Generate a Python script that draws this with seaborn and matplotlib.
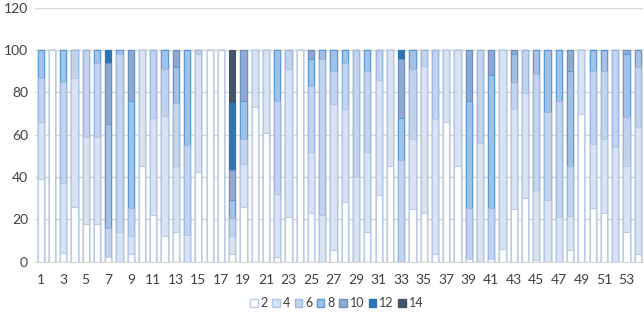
import numpy as np
import pandas as pd
import matplotlib
matplotlib.use("Agg")
import matplotlib.pyplot as plt
from matplotlib.patches import Patch
import seaborn as sns

# categories 1..54
cats = [str(i) for i in range(1, 55)]
series_names = ["2", "4", "6", "8", "10", "12", "14"]

# percentage share of each series per category
s2 = [39, 100, 4, 26, 18, 18, 2, 0, 3.5, 45,
      22, 12, 14, 0, 42.5, 100, 100, 3.5, 26, 73,
      61, 2, 21, 100, 23, 0, 5.5, 28, 0, 14,
      31.5, 45, 0, 25, 23, 3.5, 66, 45, 1.5, 0,
      1.5, 6, 25, 30, 1, 0, 0, 5.5, 70, 25.5,
      23, 0, 14, 3.5]
s4 = [27, 0, 33, 61, 41, 41, 0, 14, 8.5, 55,
      46, 57, 31, 12.5, 55.5, 0, 0, 8.5, 20, 27,
      39, 30, 70, 0, 29, 22, 69, 44, 40, 38,
      54.5, 55, 0, 33, 69.5, 64, 34, 55, 0, 56,
      0, 94, 47, 49.5, 33, 29, 21, 16, 30, 30,
      35, 54, 31, 60]
s6 = [21, 0, 48, 13, 41, 35, 14, 84, 13.5, 0,
      32, 22, 30, 42.5, 2, 0, 0, 8.5, 12, 0,
      0, 44, 9, 0, 31, 74, 15.5, 22, 60, 38,
      14, 0, 48, 33, 7.5, 32.5, 0, 0, 24, 44,
      24, 0, 13, 20.5, 54.5, 41.5, 55, 23.5, 0, 34.5,
      32, 46, 23.5, 28.5]
s8 = [13, 0, 15, 0, 0, 6, 49, 2, 50.5, 0,
      0, 9, 17, 45, 0, 0, 0, 8.5, 18, 0,
      0, 24, 0, 0, 13, 4, 10, 6, 0, 10,
      0, 0, 20, 9, 0, 0, 0, 0, 50.5, 0,
      62.5, 0, 13, 0, 11.5, 29.5, 24, 45, 0, 10,
      10, 0, 29.5, 8]
s10 = [0, 0, 0, 0, 0, 0, 29, 0, 24, 0,
       0, 0, 8, 0, 0, 0, 0, 14.5, 24, 0,
       0, 0, 0, 0, 4, 0, 0, 0, 0, 0,
       0, 0, 28, 0, 0, 0, 0, 0, 24, 0,
       12, 0, 2, 0, 0, 0, 0, 10, 0, 0,
       0, 0, 2, 0]
s12 = [0] * 54
s12[6] = 6
s12[17] = 31.5
s12[32] = 4
s14 = [0] * 54
s14[17] = 25

df = pd.DataFrame({"cat": cats, "2": s2, "4": s4, "6": s6, "8": s8,
                   "10": s10, "12": s12, "14": s14})

faces = ["#ffffff", "#d9e3f3", "#c3d4ee", "#a3c2e8", "#8eaad3", "#2e75b6", "#44546a"]
edges = ["#b9cbe8", "#b4c7e7", "#9db7e0", "#5b9bd5", "#6f8fc0", "#2e75b6", "#44546a"]

sns.set_style("white")
plt.rcParams["font.family"] = ["Lato", "DejaVu Sans"]

fig, ax = plt.subplots(figsize=(6.44, 3.22), dpi=100)
fig.subplots_adjust(left=35 / 644, right=0.999, top=1 - 7.7 / 322, bottom=60.3 / 322)

# stacked bars: draw cumulative totals, tallest first
cum = df[series_names].cumsum(axis=1)
for k in range(len(series_names) - 1, -1, -1):
    name = series_names[k]
    sns.barplot(x=df["cat"], y=cum[name], order=cats, color=faces[k],
                edgecolor=edges[k], linewidth=0.8, width=0.55,
                errorbar=None, saturation=1, ax=ax)

ax.set_ylim(0, 120)
ax.set_yticks(range(0, 121, 20))
ax.set_xlim(-0.5, 53.5)
ax.set_xticks(range(0, 54, 2))
ax.set_xticklabels(cats[::2])
ax.set_xlabel("")
ax.set_ylabel("")
ax.yaxis.grid(True, color="#d9d9d9", linewidth=1)
ax.set_axisbelow(True)
for side in ["top", "right", "left"]:
    ax.spines[side].set_visible(False)
ax.spines["bottom"].set_color("#d9d9d9")
ax.tick_params(axis="both", length=0, labelsize=10, labelcolor="#404040")
ax.tick_params(axis="x", pad=9)
ax.tick_params(axis="y", pad=5)

handles = [Patch(facecolor=faces[i], edgecolor=edges[i], label=series_names[i])
           for i in range(len(series_names))]
fig.legend(handles=handles, loc="center", bbox_to_anchor=(0.523, 0.058), ncol=7,
           frameon=False, fontsize=9, handlelength=0.6, handleheight=0.6,
           handletextpad=0.25, columnspacing=0.35, labelcolor="#404040")

plt.savefig("out.png", dpi=100)
